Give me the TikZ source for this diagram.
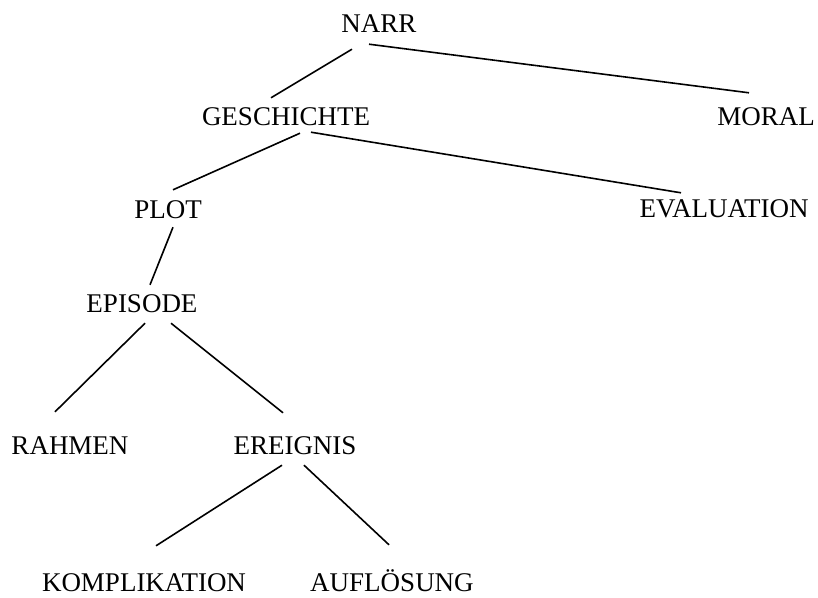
\documentclass[tikz,border=0pt]{standalone}
\usepackage{fontspec}
\setmainfont{Liberation Serif}
\usetikzlibrary{positioning}
\tikzset{lbl/.style={anchor=base,inner sep=0pt,text height=18pt,text depth=0pt,font=\fontsize{27}{30}\selectfont}, twig/.style={line width=1.6pt,draw=black}}

\begin{document}
\begin{tikzpicture}[x=1pt,y=-1pt]
\useasboundingbox(0,0)rectangle(818,597);
\node[lbl](narr)at(379,32){NARR};
\node[lbl](gesch)at(286,125){GESCHICHTE};\node[lbl](moral)at(766,125){MORAL};
\node[lbl](plt)at(168,218){PLOT};\node[lbl](evalu)at(724,217){EVALUATION};
\node[lbl](epis)at(142,312){EPISODE};
\node[lbl](rahm)at(70,454){RAHMEN};\node[lbl](ereig)at(295,454){EREIGNIS};
\node[lbl](kompl)at(144,591){KOMPLIKATION};\node[lbl](aufl)at(392,591){AUFLÖSUNG};
\draw[twig]([xshift=-27pt,yshift=-17pt]narr.south)--([xshift=-15pt,yshift=9pt]gesch.north);
\draw[twig]([xshift=-10pt,yshift=-12pt]narr.south)--([xshift=-17pt,yshift=14pt]moral.north);
\draw[twig]([xshift=14pt,yshift=-8pt]gesch.south)--([xshift=5pt,yshift=10pt]plt.north);
\draw[twig]([xshift=25pt,yshift=-7pt]gesch.south)--([xshift=-43pt,yshift=6pt]evalu.north);
\draw[twig]([xshift=5pt,yshift=-9pt]plt.south)--([xshift=8pt,yshift=9pt]epis.north);
\draw[twig]([xshift=3pt,yshift=-11pt]epis.south)--([xshift=-15pt,yshift=24pt]rahm.north);
\draw[twig]([xshift=29pt,yshift=-11pt]epis.south)--([xshift=-12pt,yshift=23pt]ereig.north);
\draw[twig]([xshift=-13pt,yshift=-11pt]ereig.south)--([xshift=12pt,yshift=27pt]kompl.north);
\draw[twig]([xshift=9pt,yshift=-11pt]ereig.south)--([xshift=-3pt,yshift=28pt]aufl.north);
\end{tikzpicture}
\end{document}
